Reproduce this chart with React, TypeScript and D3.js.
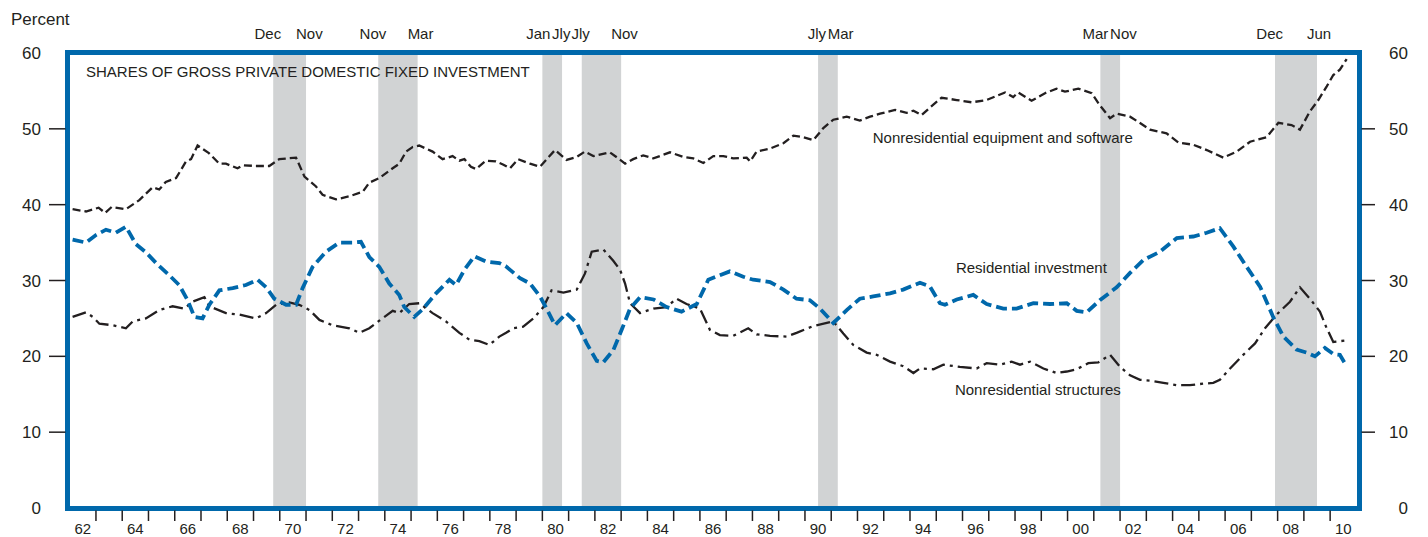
import React, { useRef, useEffect } from "react";
import * as d3 from "d3";

// Quarterly shares (percent of gross private domestic fixed investment)
const equipYears = [
  1962.11, 1962.62, 1963.1, 1963.35, 1963.6, 1964.14, 1964.65, 1965.16, 1965.41, 1965.66,
  1966.05, 1966.43, 1966.62, 1966.87, 1967.3, 1967.7, 1967.95, 1968.39, 1968.59, 1969.09,
  1969.6, 1969.98, 1970.62, 1970.94, 1971.38, 1971.63, 1972.14, 1972.65, 1973.16, 1973.41,
  1973.79, 1974.3, 1974.55, 1974.81, 1975.06, 1975.31, 1975.82, 1976.2, 1976.58, 1976.84,
  1977.03, 1977.28, 1977.47, 1977.85, 1978.23, 1978.5, 1978.77, 1979.08, 1979.53, 1979.91,
  1980.48, 1980.92, 1981.31, 1981.62, 1981.94, 1982.57, 1982.89, 1983.15, 1983.46, 1983.84,
  1984.23, 1984.86, 1985.37, 1985.75, 1986.13, 1986.51, 1986.89, 1987.27, 1987.78, 1987.91,
  1988.16, 1988.67, 1989.18, 1989.56, 1989.94, 1990.32, 1990.7, 1991.08, 1991.59, 1992.09,
  1992.48, 1992.86, 1993.43, 1993.87, 1994.13, 1994.44, 1994.76, 1995.2, 1995.78, 1996.35,
  1996.92, 1997.62, 1997.93, 1998.12, 1998.63, 1999.14, 1999.58, 1999.9, 2000.41, 2000.92,
  2001.23, 2001.62, 2001.87, 2002.38, 2002.7, 2003.14, 2003.77, 2004.22, 2004.79, 2005.3,
  2005.93, 2006.44, 2006.95, 2007.58, 2008.03, 2008.53, 2008.85, 2009.23, 2009.55, 2009.87,
  2010.12, 2010.37, 2010.63,
];
const equipShare = [
  39.4, 39.1, 39.6, 38.9, 39.7, 39.4, 40.6, 42.3, 42.0, 43.0,
  43.5, 45.7, 46.0, 47.8, 46.8, 45.4, 45.4, 44.8, 45.2, 45.1,
  45.1, 46.0, 46.2, 43.7, 42.4, 41.3, 40.7, 41.1, 41.7, 42.9,
  43.5, 44.8, 45.4, 47.0, 47.6, 47.8, 47.0, 46.0, 46.4, 45.8,
  46.0, 45.0, 44.7, 45.8, 45.7, 45.3, 44.8, 46.0, 45.4, 45.0,
  47.2, 45.9, 46.3, 47.0, 46.4, 46.9, 46.1, 45.4, 46.0, 46.5,
  46.1, 46.9, 46.3, 46.1, 45.5, 46.4, 46.4, 46.1, 46.2, 45.7,
  47.0, 47.4, 48.1, 49.1, 48.9, 48.5, 50.1, 51.2, 51.6, 51.1,
  51.6, 52.0, 52.5, 52.1, 52.4, 51.8, 52.8, 54.1, 53.8, 53.5,
  53.8, 54.8, 54.2, 54.8, 53.7, 54.7, 55.3, 54.9, 55.3, 54.7,
  53.1, 51.4, 52.0, 51.6, 50.9, 49.9, 49.4, 48.2, 47.9, 47.2,
  46.2, 47.0, 48.3, 48.9, 50.8, 50.5, 49.9, 52.3, 53.8, 55.6,
  57.1, 57.8, 59.2,
];

const resYears = [
  1962.11, 1962.62, 1963.0, 1963.38, 1963.76, 1964.14, 1964.52, 1964.91, 1965.29, 1965.79,
  1966.17, 1966.49, 1966.75, 1967.06, 1967.32, 1967.7, 1968.21, 1968.71, 1969.16, 1969.48,
  1969.79, 1970.24, 1970.62, 1970.87, 1971.25, 1971.76, 1972.27, 1972.78, 1973.09, 1973.41,
  1973.79, 1974.17, 1974.55, 1974.74, 1975.12, 1975.44, 1975.95, 1976.46, 1976.71, 1977.03,
  1977.41, 1977.85, 1978.36, 1978.6, 1979.15, 1979.53, 1979.91, 1980.16, 1980.48, 1980.92,
  1981.31, 1981.69, 1982.07, 1982.32, 1982.7, 1983.02, 1983.34, 1983.72, 1984.23, 1984.73,
  1985.3, 1985.88, 1986.32, 1986.76, 1987.14, 1987.65, 1988.03, 1988.67, 1989.18, 1989.68,
  1990.19, 1990.57, 1991.08, 1991.59, 1992.09, 1992.6, 1993.24, 1993.74, 1994.38, 1994.76,
  1995.14, 1995.33, 1995.78, 1996.41, 1996.92, 1997.55, 1998.06, 1998.7, 1999.33, 1999.97,
  2000.35, 2000.73, 2001.23, 2001.87, 2002.38, 2002.89, 2003.52, 2004.16, 2004.79, 2005.3,
  2005.8, 2006.31, 2006.82, 2007.33, 2007.83, 2008.22, 2008.72, 2009.1, 2009.42, 2009.8,
  2010.12, 2010.37, 2010.63,
];
const resShare = [
  35.4, 35.0, 36.0, 36.7, 36.3, 37.1, 34.8, 33.7, 32.3, 30.7,
  29.4, 27.4, 25.2, 25.0, 26.8, 28.7, 29.0, 29.4, 30.1, 29.1,
  27.6, 26.8, 26.8, 29.0, 31.8, 33.8, 35.0, 35.0, 35.1, 33.1,
  31.8, 29.6, 28.1, 26.5, 25.2, 26.2, 28.3, 30.1, 29.4, 31.4,
  33.2, 32.5, 32.3, 31.9, 30.3, 29.6, 27.9, 26.3, 24.1, 25.7,
  24.4, 21.7, 19.4, 19.2, 20.8, 23.5, 26.3, 27.8, 27.5, 26.5,
  25.9, 26.9, 30.1, 30.7, 31.2, 30.5, 30.1, 29.8, 28.8, 27.6,
  27.4, 26.3, 24.4, 26.1, 27.6, 27.9, 28.3, 28.8, 29.7, 29.2,
  27.0, 26.8, 27.5, 28.1, 26.9, 26.3, 26.3, 27.0, 26.9, 27.0,
  26.0, 25.8, 27.4, 29.1, 31.0, 32.7, 33.8, 35.6, 35.8, 36.3,
  36.9, 34.5, 31.8, 29.2, 25.2, 22.6, 20.9, 20.5, 20.0, 21.1,
  20.3, 20.2, 18.7,
];

const structYears = [
  1962.11, 1962.62, 1962.88, 1963.13, 1963.64, 1964.14, 1964.4, 1964.9, 1965.41, 1965.92,
  1966.36, 1966.68, 1967.13, 1967.32, 1967.95, 1968.46, 1969.09, 1969.48, 1969.86, 1970.36,
  1970.74, 1971.13, 1971.51, 1972.01, 1972.65, 1973.03, 1973.41, 1973.79, 1974.3, 1974.55,
  1974.93, 1975.31, 1975.82, 1976.33, 1976.84, 1977.22, 1977.6, 1977.98, 1978.36, 1978.62,
  1978.89, 1979.27, 1979.66, 1980.04, 1980.35, 1980.8, 1981.31, 1981.62, 1981.88, 1982.32,
  1982.7, 1982.96, 1983.15, 1983.34, 1983.72, 1984.23, 1984.73, 1985.11, 1985.49, 1986.0,
  1986.38, 1986.76, 1987.27, 1987.84, 1988.16, 1988.67, 1989.3, 1989.68, 1990.32, 1991.08,
  1991.46, 1991.84, 1992.35, 1992.73, 1993.24, 1993.74, 1994.13, 1994.38, 1994.89, 1995.27,
  1995.9, 1996.54, 1996.92, 1997.43, 1997.87, 1998.19, 1998.57, 1999.08, 1999.58, 1999.97,
  2000.35, 2000.79, 2001.17, 2001.62, 2002.0, 2002.38, 2002.76, 2003.14, 2003.65, 2004.15,
  2004.66, 2005.17, 2005.55, 2005.8, 2006.19, 2006.69, 2007.14, 2007.52, 2007.96, 2008.47,
  2008.85, 2009.23, 2009.61, 2009.87, 2010.12, 2010.63,
];
const structShare = [
  25.2, 25.8, 25.2, 24.3, 24.1, 23.7, 24.6, 25.0, 26.1, 26.6,
  26.3, 27.2, 27.8, 26.6, 25.7, 25.5, 25.0, 25.7, 26.8, 27.1,
  26.8, 26.1, 24.8, 24.1, 23.7, 23.1, 23.7, 24.7, 26.0, 25.7,
  26.9, 27.0, 25.7, 24.6, 23.1, 22.2, 22.0, 21.5, 22.6, 23.1,
  23.7, 23.9, 25.0, 26.5, 28.7, 28.4, 28.8, 30.9, 33.8, 34.1,
  32.6, 31.4, 29.6, 27.0, 25.7, 26.3, 26.5, 27.6, 26.9, 26.3,
  23.5, 22.8, 22.7, 23.7, 22.9, 22.7, 22.6, 23.1, 24.0, 24.6,
  23.0, 21.5, 20.5, 20.2, 19.3, 18.7, 17.8, 18.4, 18.3, 18.9,
  18.6, 18.4, 19.1, 18.9, 19.3, 18.9, 19.3, 18.4, 17.8, 18.0,
  18.3, 19.1, 19.2, 20.2, 18.6, 17.5, 16.9, 16.8, 16.5, 16.2,
  16.2, 16.4, 16.5, 16.9, 18.4, 20.2, 21.7, 23.7, 25.5, 27.2,
  29.1, 27.6, 25.9, 23.7, 21.9, 22.1,
];

// Recessions (shaded), as decimal years, with their peak / trough month labels
const recessionStart = [1969.75, 1973.75, 1980.0, 1981.5, 1990.5, 2001.25, 2007.9];
const recessionEnd = [1971.0, 1975.25, 1980.75, 1983.0, 1991.25, 2002.0, 2009.5];
const peakLabels = ["Dec", "Nov", "Jan", "Jly", "Jly", "Mar", "Dec"];
const troughLabels = ["Nov", "Mar", "Jly", "Nov", "Mar", "Nov", "Jun"];

const yTicks = [0, 10, 20, 30, 40, 50, 60];
const tickYears = d3.range(1963, 2011);
const labelYears = d3.range(1962, 2011, 2);

const title = "SHARES OF GROSS PRIVATE DOMESTIC FIXED INVESTMENT";
const seriesNames = [
  "Nonresidential equipment and software",
  "Residential investment",
  "Nonresidential structures",
];

const BLUE = "#0068ab";
const INK = "#231f20";
const FONT = "'Liberation Sans', Arial, Helvetica, sans-serif";

const App = () => {
  const svgRef = useRef<SVGSVGElement>(null);

  useEffect(() => {
    const svg = d3.select(svgRef.current);
    svg.selectAll("*").remove();

    const frame = { left: 67.5, right: 1359.5, top: 52.5, bottom: 508.5 };

    const x = d3.scaleLinear().domain([1962, 2011]).range([69.7, 1356.4]);
    const y = d3.scaleLinear().domain([0, 60]).range([508, 53]);

    // recession shading
    svg
      .append("g")
      .selectAll("rect")
      .data(recessionStart)
      .join("rect")
      .attr("x", (d) => x(d))
      .attr("width", (d, i) => x(recessionEnd[i]) - x(d))
      .attr("y", frame.top)
      .attr("height", frame.bottom - frame.top)
      .attr("fill", "#d1d3d4");

    // recession month labels
    const recLabels = svg
      .append("g")
      .attr("font-family", FONT)
      .attr("font-size", 15)
      .attr("fill", INK);
    recLabels
      .selectAll("text.peak")
      .data(recessionStart)
      .join("text")
      .attr("class", "peak")
      .attr("x", (d) => x(d) + 8)
      .attr("y", 39)
      .attr("text-anchor", "end")
      .text((d, i) => peakLabels[i]);
    recLabels
      .selectAll("text.trough")
      .data(recessionEnd)
      .join("text")
      .attr("class", "trough")
      .attr("x", (d) => x(d) - 10)
      .attr("y", 39)
      .attr("text-anchor", "start")
      .text((d, i) => troughLabels[i]);

    // series lines
    const makeLine = (years: number[]) =>
      d3
        .line<number>()
        .x((d, i) => x(years[i]))
        .y((d) => y(d));

    svg
      .append("path")
      .datum(structShare)
      .attr("d", makeLine(structYears))
      .attr("fill", "none")
      .attr("stroke", INK)
      .attr("stroke-width", 2.3)
      .attr("stroke-dasharray", "14 5 3 5");

    svg
      .append("path")
      .datum(equipShare)
      .attr("d", makeLine(equipYears))
      .attr("fill", "none")
      .attr("stroke", INK)
      .attr("stroke-width", 2.3)
      .attr("stroke-dasharray", "8 4");

    svg
      .append("path")
      .datum(resShare)
      .attr("d", makeLine(resYears))
      .attr("fill", "none")
      .attr("stroke", BLUE)
      .attr("stroke-width", 3.8)
      .attr("stroke-dasharray", "11 5");

    // frame
    svg
      .append("rect")
      .attr("x", frame.left)
      .attr("y", frame.top)
      .attr("width", frame.right - frame.left)
      .attr("height", frame.bottom - frame.top)
      .attr("fill", "none")
      .attr("stroke", BLUE)
      .attr("stroke-width", 5);

    // y ticks left / right
    const inner = yTicks.filter((d) => d > 0 && d < 60);
    svg
      .append("g")
      .selectAll("line")
      .data(inner)
      .join("line")
      .attr("x1", 49)
      .attr("x2", frame.left - 2)
      .attr("y1", (d) => y(d))
      .attr("y2", (d) => y(d))
      .attr("stroke", INK)
      .attr("stroke-width", 1.5);
    svg
      .append("g")
      .selectAll("line")
      .data(inner)
      .join("line")
      .attr("x1", frame.right + 2)
      .attr("x2", 1375)
      .attr("y1", (d) => y(d))
      .attr("y2", (d) => y(d))
      .attr("stroke", INK)
      .attr("stroke-width", 1.5);

    const yLabels = svg
      .append("g")
      .attr("font-family", FONT)
      .attr("font-size", 17)
      .attr("fill", INK);
    yLabels
      .selectAll("text.left")
      .data(yTicks)
      .join("text")
      .attr("class", "left")
      .attr("x", 41)
      .attr("y", (d) => y(d) + 6)
      .attr("text-anchor", "end")
      .text((d) => d);
    yLabels
      .selectAll("text.right")
      .data(yTicks)
      .join("text")
      .attr("class", "right")
      .attr("x", 1408)
      .attr("y", (d) => y(d) + 6)
      .attr("text-anchor", "end")
      .text((d) => d);
    yLabels.append("text").attr("x", 11).attr("y", 25).text("Percent");

    // x ticks and labels
    svg
      .append("g")
      .selectAll("line")
      .data(tickYears)
      .join("line")
      .attr("x1", (d) => x(d))
      .attr("x2", (d) => x(d))
      .attr("y1", frame.bottom + 2)
      .attr("y2", 521)
      .attr("stroke", INK)
      .attr("stroke-width", 1.5);
    svg
      .append("g")
      .attr("font-family", FONT)
      .attr("font-size", 15)
      .attr("fill", INK)
      .selectAll("text")
      .data(labelYears)
      .join("text")
      .attr("x", (d) => x(d + 0.5))
      .attr("y", 534)
      .attr("text-anchor", "middle")
      .text((d) => String(d % 100).padStart(2, "0"));

    // title and series labels
    const notes = svg
      .append("g")
      .attr("font-family", FONT)
      .attr("font-size", 15)
      .attr("fill", INK);
    notes.append("text").attr("x", 86).attr("y", 77).text(title);
    notes
      .append("text")
      .attr("x", x(1992.58))
      .attr("y", y(48.1))
      .text(seriesNames[0]);
    notes
      .append("text")
      .attr("x", x(1995.75))
      .attr("y", y(30.95))
      .text(seriesNames[1]);
    notes
      .append("text")
      .attr("x", x(1995.71))
      .attr("y", y(14.85))
      .text(seriesNames[2]);
  }, []);

  return (
    <svg
      ref={svgRef}
      width={1428}
      height={537}
      style={{ position: "absolute", left: 0, top: 0, background: "#fff" }}
    />
  );
};

export default App;
